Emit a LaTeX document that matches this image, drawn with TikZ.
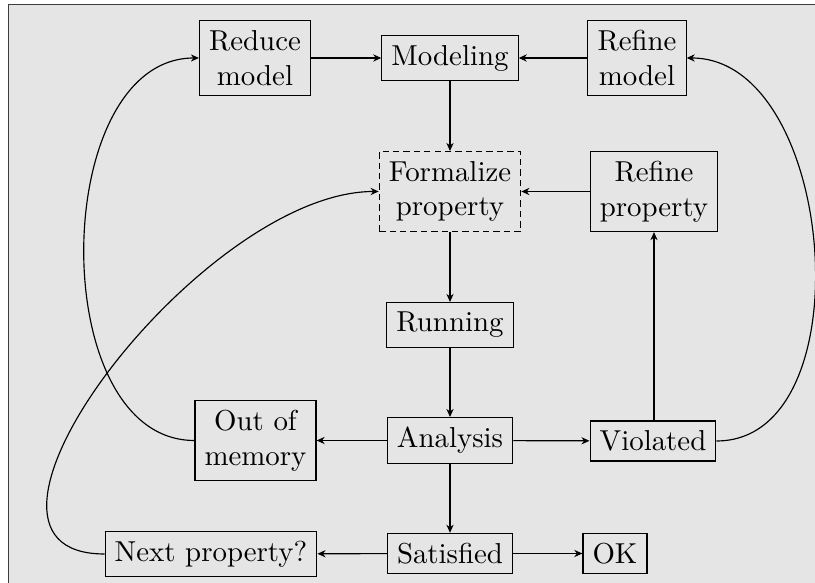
\documentclass[tikz,border=0pt]{standalone}
\usetikzlibrary{arrows.meta}
\definecolor{panel}{RGB}{229,229,229}
\definecolor{rim}{RGB}{60,60,60}
\begin{document}
\begin{tikzpicture}[x=0.3466pt,y=-0.3466pt,
  box/.style={draw,align=center,fill=panel},
  dashbox/.style={box,dash pattern=on 2.2pt off 1.4pt},
  flow/.style={-{Stealth[length=2.8pt,width=2.5pt,inset=0.9pt]}}]
  % canvas and its frame
  \useasboundingbox (0,0) rectangle (815,583);
  \fill[white] (0,0) rectangle (815,583);
  \fill[panel] (8.5,4.5) rectangle (815,583);
  \draw[rim,line width=0.5pt] (8.5,583) -- (8.5,4.5) -- (815,4.5);

  % steps
  \node[box] (reduce) at (255,58) {Reduce\\model};
  \node[box] (model) at (450,58) {Modeling};
  \node[box] (refmod) at (637,58) {Refine\\model};
  \node[dashbox] (formal) at (450,191.5) {Formalize\\property};
  \node[box] (refprop) at (654,191.5) {Refine\\property};
  \node[box] (run) at (450,325) {Running};
  \node[box] (oom) at (255.5,440.5) {Out of\\memory};
  \node[box] (anal) at (450,440.5) {Analysis};
  \node[box] (viol) at (653,441) {Violated};
  \node[box] (next) at (211,554) {Next property?};
  \node[box] (sat) at (450,553.5) {Satisfied};
  \node[box] (ok) at (615,553.5) {OK};

  % main flow
  \draw[flow] (reduce) -- (model);
  \draw[flow] (refmod) -- (model);
  \draw[flow] (model) -- (formal);
  \draw[flow] (refprop) -- (formal);
  \draw[flow] (formal) -- (run);
  \draw[flow] (run) -- (anal);
  \draw[flow] (anal) -- (oom);
  \draw[flow] (anal) -- (viol);
  \draw[flow] (anal) -- (sat);
  \draw[flow] (sat) -- (next);
  \draw[flow] (sat) -- (ok);
  \draw[flow] (viol.north -| refprop.south) -- (refprop.south);

  % feedback loops
  \draw[flow] (oom.west) to[out=180,in=180] (reduce.west);
  \draw[flow] (viol.east) to[out=0,in=0] (refmod.east);
  \draw[flow] (next.west) to[out=180,in=180] (formal.west);
\end{tikzpicture}
\end{document}
